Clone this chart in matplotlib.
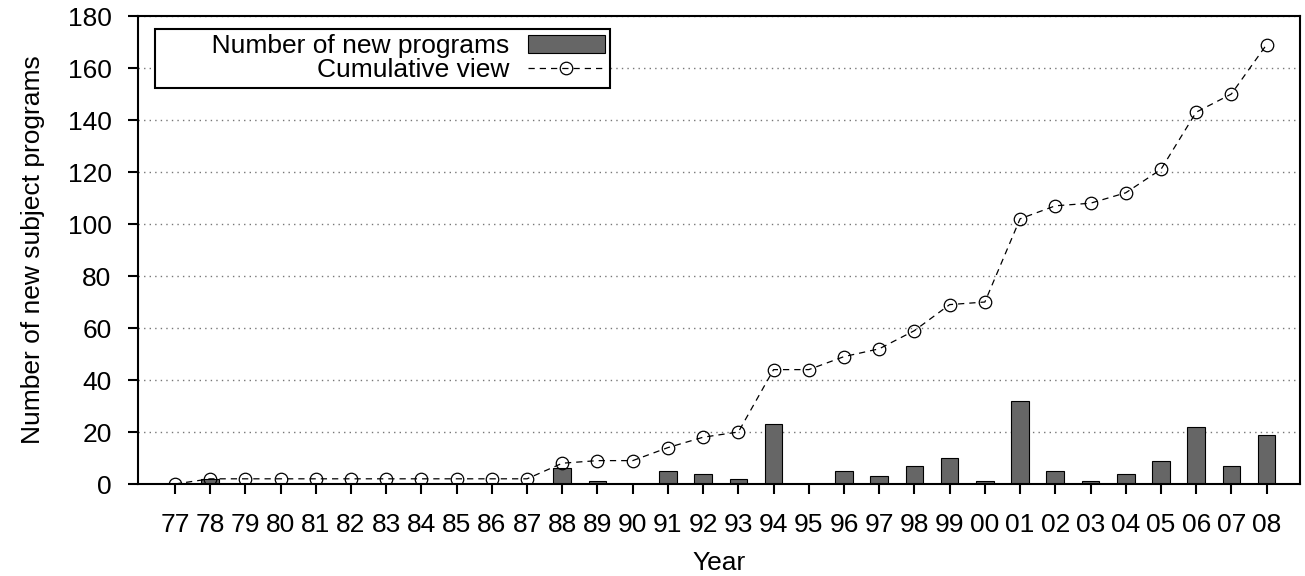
import numpy as np
from matplotlib import pyplot as plt

years = ['77', '78', '79', '80', '81', '82', '83', '84', '85', '86', '87', '88',
         '89', '90', '91', '92', '93', '94', '95', '96', '97', '98', '99', '00',
         '01', '02', '03', '04', '05', '06', '07', '08']
new_programs = [0, 2, 0, 0, 0, 0, 0, 0, 0, 0, 0, 6,
                1, 0, 5, 4, 2, 23, 0, 5, 3, 7, 10, 1,
                32, 5, 1, 4, 9, 22, 7, 19]
cumulative = [0, 2, 2, 2, 2, 2, 2, 2, 2, 2, 2, 8,
              9, 9, 14, 18, 20, 44, 44, 49, 52, 59, 69, 70,
              102, 107, 108, 112, 121, 143, 150, 169]

plt.rcParams['font.family'] = ['Liberation Sans', 'DejaVu Sans']
fs = 19

fig = plt.figure(figsize=(13.05, 5.76), dpi=100)
ax = fig.add_axes([0.1057, 0.1597, 0.8905, 0.8125])

x = np.arange(len(years))
bars = ax.bar(x, new_programs, width=0.5, color='#666666', edgecolor='black',
              linewidth=0.8, label='Number of new programs', zorder=2)
line, = ax.plot(x, cumulative, linestyle=(0, (5, 4)), color='black', linewidth=0.9,
                marker='o', markersize=9, markerfacecolor='none', markeredgecolor='black',
                markeredgewidth=0.9, label='Cumulative view', zorder=3)

ax.set_xlim(-1.05, 31.95)
ax.set_ylim(0, 180)
ax.set_xticks(x)
ax.set_xticklabels(years)
ax.set_yticks(np.arange(0, 181, 20))
ax.tick_params(axis='both', direction='out', length=7, width=1.5, labelsize=fs)
ax.tick_params(axis='x', pad=14)
ax.tick_params(axis='y', pad=12)
ax.yaxis.grid(True, linestyle=(0, (1, 3)), color='#777777', linewidth=1, zorder=0)
ax.set_axisbelow(True)
for s in ax.spines.values():
    s.set_linewidth(1.5)

ax.set_xlabel('Year', fontsize=fs, labelpad=10)
ax.set_ylabel('Number of new subject programs', fontsize=fs, labelpad=16)

# gnuplot-style key: text right aligned, samples on the right, extra room on the left
leg = ax.legend([bars, line], ['       Number of new programs', 'Cumulative view'],
                loc='upper left', bbox_to_anchor=(0.0148, 0.972), markerfirst=False,
                fontsize=fs, handlelength=2.9, borderaxespad=0.0, borderpad=0.2,
                labelspacing=0.0, fancybox=False, framealpha=1, edgecolor='black',
                handletextpad=0.7)
leg.get_frame().set_linewidth(1.5)

fig.savefig('out.png', dpi=100)
